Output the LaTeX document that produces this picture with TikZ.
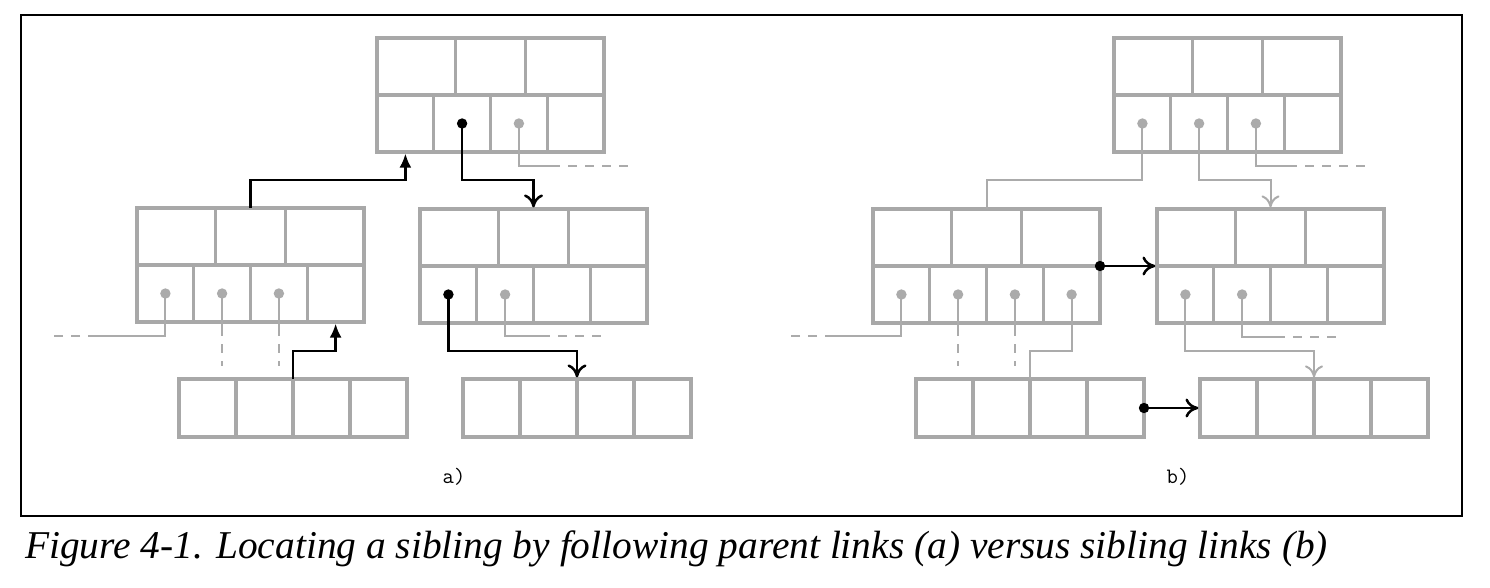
\documentclass[tikz,border=0pt]{standalone}
\usepackage{fontspec}
\setmainfont{Liberation Serif}
\usetikzlibrary{arrows.meta,shadows}
\definecolor{bx}{HTML}{A8A8A8}
\definecolor{cn}{HTML}{ABABAB}
\tikzset{
  boxst/.style={draw=bx, line width=3.3pt, fill=white, inner sep=0pt, outer sep=0pt, anchor=north west,
    drop shadow={shadow xshift=2pt, shadow yshift=-2pt, fill=black, opacity=0.12}},
  cell/.style={draw=bx, line width=3.3pt},
  inode/.pic={
    \node[boxst, minimum width=227pt, minimum height=114pt] (-box) at (0,0) {};
    \draw[cell] (0,57) -- (227,57)
      (78.5,0) -- (78.5,57) (148.3,0) -- (148.3,57)
      (56.75,57) -- (56.75,114) (113.5,57) -- (113.5,114) (170.25,57) -- (170.25,114);
    \coordinate (-d0) at (28.4,85.5);
    \coordinate (-d1) at (85.1,85.5);
    \coordinate (-d2) at (141.9,85.5);
    \coordinate (-d3) at (198.6,85.5);
  },
  lnode/.pic={
    \node[boxst, minimum width=228pt, minimum height=58pt] (-box) at (0,0) {};
    \draw[cell] (57,0) -- (57,58) (114,0) -- (114,58) (171,0) -- (171,58);
  },
  blk/.style={draw=black, line width=2.5pt},
  gry/.style={draw=cn, line width=2pt},
  dsh/.style={gry, dash pattern=on 9pt off 8pt, dash phase=9pt},
  totip/.style={-{To[length=13pt,width=19pt]}, shorten >=1.6pt},
  gtotip/.style={-{To[length=12pt,width=18pt]}, shorten >=1.6pt},
  tritip/.style={-{Latex[length=14pt,width=12pt]}, shorten >=1.6pt},
  gdot/.style={fill=cn},
  bdot/.style={fill=black},
  lbl/.style={font=\ttfamily\fontsize{22}{26}\selectfont},
}
\begin{document}
\begin{tikzpicture}[x=1pt,y=-1pt]
\useasboundingbox (0,0) rectangle (1490,588);
\node[draw, line width=1.3pt, minimum width=1441pt, minimum height=501pt, anchor=north west, inner sep=0pt, outer sep=0pt] (frame) at (21,15) {};

% ---------- a) ----------
\pic (aT) at (377,38) {inode};
\pic (aL) at (137,208) {inode};
\pic (aR) at (420,209) {inode};
\pic (aLL) at (179,379) {lnode};
\pic (aLR) at (463,379) {lnode};

% gray links a)
\coordinate (as1) at (560,166); \coordinate (ae1) at (633,166);
\draw[gry] (aT-d2) |- (as1); \draw[dsh] (as1) -- (ae1);
\coordinate (as2) at (88,336); \coordinate (ae2) at (50,336);
\draw[gry] (aL-d0) |- (as2); \draw[dsh] (as2) -- (ae2);
\draw[gry] (aL-d1) -- (aL-d1 |- 0,336); \draw[dsh] (aL-d1 |- 0,336) -- (aL-d1 |- 0,366);
\draw[gry] (aL-d2) -- (aL-d2 |- 0,336); \draw[dsh] (aL-d2 |- 0,336) -- (aL-d2 |- 0,366);
\coordinate (as3) at (550,336); \coordinate (ae3) at (605,336);
\draw[gry] (aR-d1) |- (as3); \draw[dsh] (as3) -- (ae3);

% black links a)
\draw[blk,tritip] (aLL-box.north) |- (aL-d3 |- 0,351) -- (aL-d3 |- aL-box.south);
\draw[blk,tritip] (aL-box.north) |- (aT-d0 |- 0,180) -- (aT-d0 |- aT-box.south);
\draw[blk,totip] (aT-d1) |- (aR-box.north |- 0,180) -- (aR-box.north);
\draw[blk,totip] (aR-d0) |- (aLR-box.north |- 0,351) -- (aLR-box.north);

% dots a)
\fill[gdot] (aT-d2) circle (5.2pt);
\fill[bdot] (aT-d1) circle (5.2pt);
\fill[gdot] (aL-d0) circle (5.2pt);
\fill[gdot] (aL-d1) circle (5.2pt);
\fill[gdot] (aL-d2) circle (5.2pt);
\fill[bdot] (aR-d0) circle (5.2pt);
\fill[gdot] (aR-d1) circle (5.2pt);

\node[lbl] (la) at (454,477) {a)};

% ---------- b) ----------
\pic (bT) at (1114,38) {inode};
\pic (bL) at (873,209) {inode};
\pic (bR) at (1157,209) {inode};
\pic (bLL) at (916,379) {lnode};
\pic (bLR) at (1200,379) {lnode};

% gray links b)
\draw[gry] (bT-d0) |- (bL-box.north |- 0,180) -- (bL-box.north);
\draw[gry,gtotip] (bT-d1) |- (bR-box.north |- 0,180) -- (bR-box.north);
\coordinate (bs1) at (1297,166); \coordinate (be1) at (1370,166);
\draw[gry] (bT-d2) |- (bs1); \draw[dsh] (bs1) -- (be1);
\coordinate (bs2) at (825,336); \coordinate (be2) at (787,336);
\draw[gry] (bL-d0) |- (bs2); \draw[dsh] (bs2) -- (be2);
\draw[gry] (bL-d1) -- (bL-d1 |- 0,336); \draw[dsh] (bL-d1 |- 0,336) -- (bL-d1 |- 0,366);
\draw[gry] (bL-d2) -- (bL-d2 |- 0,336); \draw[dsh] (bL-d2 |- 0,336) -- (bL-d2 |- 0,366);
\draw[gry] (bL-d3) |- (bLL-box.north |- 0,351) -- (bLL-box.north);
\draw[gry,gtotip] (bR-d0) |- (bLR-box.north |- 0,351) -- (bLR-box.north);
\coordinate (bs3) at (1285,337); \coordinate (be3) at (1342,337);
\draw[gry] (bR-d1) |- (bs3); \draw[dsh] (bs3) -- (be3);

% black sibling links b)
\draw[blk,totip] (bL-box.east) -- (bR-box.west);
\draw[blk,totip] (bLL-box.east) -- (bLR-box.west);

% dots b)
\fill[gdot] (bT-d0) circle (5.2pt);
\fill[gdot] (bT-d1) circle (5.2pt);
\fill[gdot] (bT-d2) circle (5.2pt);
\fill[gdot] (bL-d0) circle (5.2pt);
\fill[gdot] (bL-d1) circle (5.2pt);
\fill[gdot] (bL-d2) circle (5.2pt);
\fill[gdot] (bL-d3) circle (5.2pt);
\fill[gdot] (bR-d0) circle (5.2pt);
\fill[gdot] (bR-d1) circle (5.2pt);
\fill[bdot] (bL-box.east) circle (5.2pt);
\fill[bdot] (bLL-box.east) circle (5.2pt);

\node[lbl] (lb) at (1178,477) {b)};

% caption
\node[anchor=base west, inner sep=0pt, font=\itshape\fontsize{39.4}{44}\selectfont] (cap) at (25,558)
  {Figure 4-1. Locating a sibling by following parent links (a) versus sibling links (b)};
\end{tikzpicture}
\end{document}
